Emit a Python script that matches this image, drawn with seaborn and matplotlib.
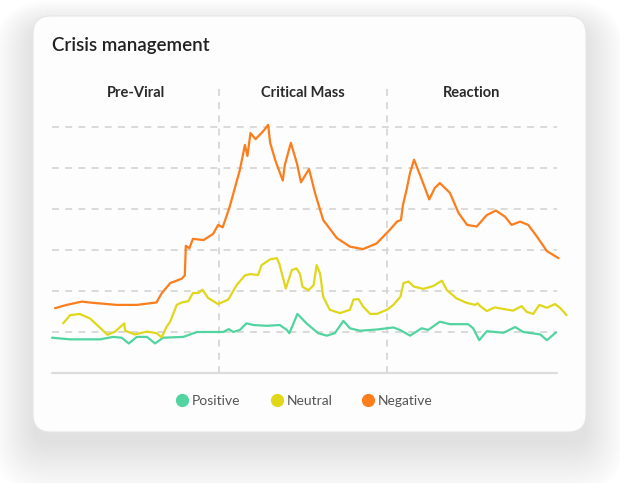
import matplotlib
matplotlib.use("Agg")
import matplotlib.pyplot as plt
import seaborn as sns
import pandas as pd
from matplotlib.patches import FancyBboxPatch
from matplotlib.lines import Line2D

# time axis runs 0..100 across the three phases
phases = ["Pre-Viral", "Critical Mass", "Reaction"]
phase_bounds = [0, 33.1, 66.3, 100]

neg_t = [0.6, 2.9, 5.9, 8.1, 12.8, 16.8, 20.7, 21.7, 23.4, 25.7, 26.3, 26.5, 27.2, 27.9,
         30.0, 31.9, 32.9, 33.8, 35.2, 37.2, 38.2, 38.7, 39.3, 40.3, 41.8, 42.8, 43.2,
         44.2, 45.7, 46.1, 47.3, 48.5, 49.3, 50.9, 52.1, 53.7, 56.4, 59.0, 61.6, 64.3,
         66.9, 68.3, 69.1, 69.5, 70.2, 70.9, 71.7, 73.2, 74.7, 75.8, 76.8, 78.8, 80.5,
         82.2, 84.1, 86.1, 87.9, 89.7, 91.0, 92.7, 94.3, 96.0, 98.0, 100.3]
neg_v = [1.58, 1.66, 1.74, 1.71, 1.66, 1.66, 1.72, 1.94, 2.19, 2.30, 2.38, 3.10, 3.04, 3.27,
         3.24, 3.39, 3.61, 3.55, 4.06, 4.95, 5.56, 5.29, 5.85, 5.70, 5.89, 6.05, 5.61,
         5.19, 4.69, 5.07, 5.61, 5.11, 4.65, 4.97, 4.38, 3.73, 3.29, 3.08, 3.02, 3.16,
         3.49, 3.69, 3.73, 4.10, 4.46, 4.88, 5.20, 4.72, 4.23, 4.51, 4.63, 4.39, 3.90,
         3.61, 3.57, 3.85, 3.96, 3.81, 3.61, 3.69, 3.61, 3.33, 2.97, 2.80]

neu_t = [2.2, 3.6, 5.5, 7.5, 9.2, 11.0, 12.5, 14.3, 14.5, 16.4, 18.8, 20.7, 21.7, 22.7,
         23.4, 24.7, 25.7, 27.0, 27.9, 29.0, 29.8, 30.9, 32.9, 34.9, 36.6, 38.2, 39.2,
         40.8, 41.5, 43.2, 44.5, 45.0, 46.3, 47.5, 48.4, 49.1, 49.6, 50.8, 51.8, 52.4,
         53.1, 53.7, 55.0, 57.0, 59.0, 59.7, 60.7, 61.6, 63.0, 64.3, 66.3, 67.6, 69.0,
         69.6, 70.6, 71.6, 73.5, 75.5, 77.2, 78.2, 80.1, 82.1, 83.8, 84.3, 84.8, 86.1,
         87.7, 89.4, 91.3, 93.0, 94.0, 95.3, 96.5, 98.0, 99.6, 100.6, 101.9]
neu_v = [1.21, 1.41, 1.44, 1.33, 1.14, 0.93, 1.01, 1.21, 1.03, 0.94, 1.01, 0.97, 0.87, 1.13,
         1.25, 1.66, 1.72, 1.75, 1.95, 1.95, 2.03, 1.83, 1.68, 1.79, 2.15, 2.38, 2.41,
         2.39, 2.63, 2.77, 2.80, 2.67, 2.06, 2.51, 2.55, 2.42, 2.10, 2.02, 2.14, 2.63,
         2.42, 1.86, 1.54, 1.46, 1.54, 1.79, 1.80, 1.62, 1.44, 1.44, 1.54, 1.66, 1.86,
         2.19, 2.23, 2.11, 2.05, 2.12, 2.25, 2.02, 1.82, 1.71, 1.66, 1.70, 1.63, 1.51,
         1.60, 1.56, 1.52, 1.63, 1.49, 1.44, 1.66, 1.59, 1.68, 1.59, 1.41]

pos_t = [0.0, 3.6, 9.5, 12.1, 13.8, 15.2, 16.8, 18.8, 20.4, 22.0, 26.0, 28.7, 32.6, 33.9,
         35.0, 35.9, 37.2, 38.5, 39.9, 42.5, 45.1, 46.5, 47.0, 48.6, 50.4, 52.7, 54.4,
         56.0, 57.7, 59.0, 61.0, 64.3, 67.6, 68.9, 70.9, 73.2, 74.5, 76.8, 78.8, 82.4,
         83.4, 84.6, 86.1, 89.4, 91.7, 93.3, 96.7, 98.0, 99.8]
pos_v = [0.86, 0.82, 0.82, 0.88, 0.86, 0.72, 0.88, 0.88, 0.72, 0.86, 0.88, 1.00, 1.00, 1.00,
         1.07, 1.00, 1.05, 1.21, 1.17, 1.15, 1.17, 1.05, 0.97, 1.44, 1.21, 0.97, 0.91,
         0.97, 1.27, 1.09, 1.03, 1.06, 1.11, 1.05, 0.91, 1.09, 1.05, 1.25, 1.19, 1.19,
         1.09, 0.80, 1.02, 0.98, 1.12, 1.00, 0.94, 0.80, 0.99]

series_names = ["Positive", "Neutral", "Negative"]
colors = {"Positive": "#52d4a0", "Neutral": "#e0d71b", "Negative": "#fc7d1c"}

df = pd.concat([
    pd.DataFrame({"t": pos_t, "value": pos_v, "sentiment": "Positive"}),
    pd.DataFrame({"t": neu_t, "value": neu_v, "sentiment": "Neutral"}),
    pd.DataFrame({"t": neg_t, "value": neg_v, "sentiment": "Negative"}),
], ignore_index=True)

sns.set_style("white")
plt.rcParams["font.family"] = ["Lato", "DejaVu Sans"]
plt.rcParams["lines.scale_dashes"] = False

W, H = 620, 483
fig = plt.figure(figsize=(W / 100, H / 100), dpi=100)
fig.patch.set_facecolor("white")

# card with soft shadow, drawn in pixel coordinates
bg = fig.add_axes([0, 0, 1, 1], zorder=0)
bg.set_xlim(0, W)
bg.set_ylim(H, 0)
bg.axis("off")
cx, cy, cw, ch = 33, 16, 553, 416
for i in range(30):
    pad = i * 1.4
    bg.add_patch(FancyBboxPatch((cx - pad, cy + 12 - pad * 0.7), cw + 2 * pad, ch + 2 * pad,
                                boxstyle=f"round,pad=0,rounding_size={18 + pad}",
                                fc="black", ec="none", alpha=0.004))
bg.add_patch(FancyBboxPatch((cx, cy), cw, ch, boxstyle="round,pad=0,rounding_size=18",
                            fc="#fdfdfd", ec="#e6e6e6", lw=0.8))

ax = fig.add_axes([52 / W, 1 - 373 / H, 505 / W, 288 / H], zorder=1)
ax.patch.set_alpha(0)

for v in range(1, 7):
    ax.axhline(v, color="#d7d7d7", lw=1.3, ls=(0, (5, 4.5)), zorder=1)
for b in phase_bounds[1:-1]:
    ax.axvline(b, color="#d7d7d7", lw=1.3, ls=(0, (5, 4.5)), zorder=1)
ax.axhline(0, color="#dcdcdc", lw=1.6, clip_on=False, zorder=1)

sns.lineplot(data=df, x="t", y="value", hue="sentiment", palette=colors,
             hue_order=series_names, lw=1.6, ax=ax, legend=False, sort=False,
             estimator=None, zorder=3)
for ln in ax.lines:
    ln.set_clip_on(False)
    ln.set_solid_joinstyle("round")

for i, name in enumerate(phases):
    mid = (phase_bounds[i] + phase_bounds[i + 1]) / 2
    ax.text(mid, 6.83, name, ha="center", va="center", fontsize=10.5,
            fontweight="bold", color="#2b2b2b")

ax.set_xlim(0, 100)
ax.set_ylim(0, 7.02)
ax.set_xlabel("")
ax.set_ylabel("")
ax.set_xticks([])
ax.set_yticks([])
sns.despine(ax=ax, left=True, bottom=True)

fig.text(52 / W, 1 - 45 / H, "Crisis management", fontsize=13.5, fontweight="semibold",
         color="#222222", va="center", ha="left")

handles = [Line2D([], [], marker="o", ls="", markersize=8.5, color=colors[n]) for n in series_names]
fig.legend(handles, series_names, loc="center", bbox_to_anchor=(304 / W, 1 - 401 / H),
           ncol=3, frameon=False, handletextpad=0.2, columnspacing=2.1, fontsize=10,
           labelcolor="#555555", handlelength=1.0)

fig.savefig("out.png", dpi=100)
